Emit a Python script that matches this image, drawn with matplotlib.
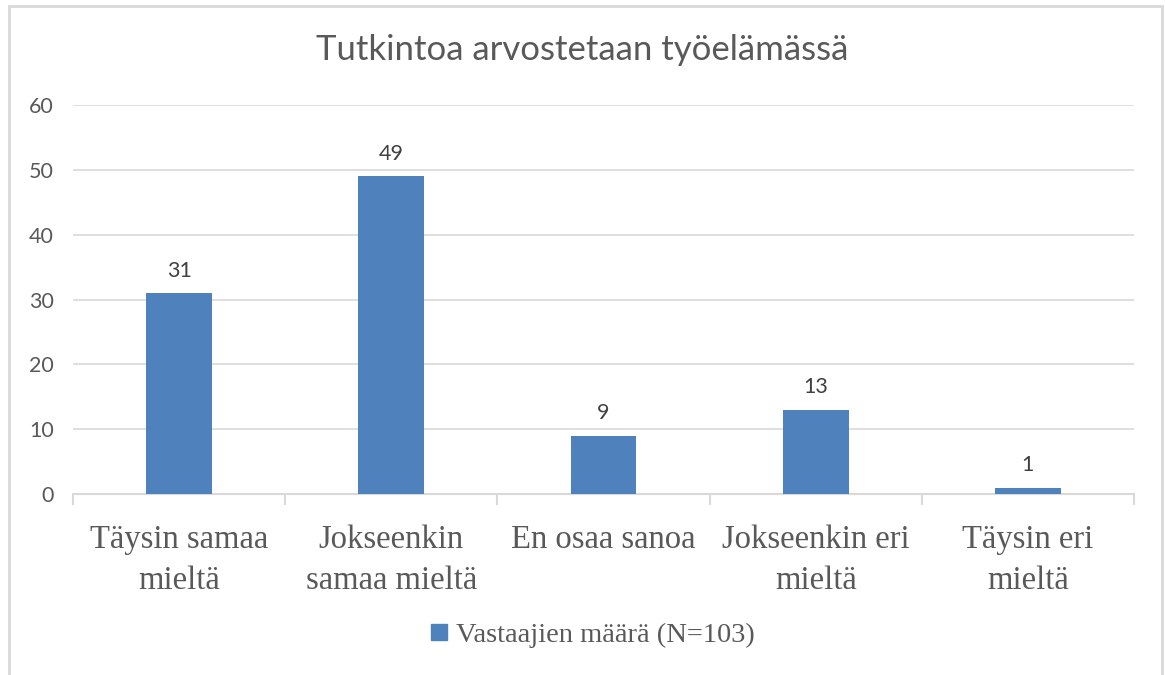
import numpy as np
import matplotlib.pyplot as plt
from matplotlib.patches import Rectangle
from matplotlib.lines import Line2D

## Data
Categories = ["Täysin samaa\nmieltä", "Jokseenkin\nsamaa mieltä", "En osaa sanoa",
              "Jokseenkin eri\nmieltä", "Täysin eri\nmieltä"]
Values = [31, 49, 9, 13, 1]
Y_Ticks = [0, 10, 20, 30, 40, 50, 60]
Title = "Tutkintoa arvostetaan työelämässä"
Series_Name = "Vastaajien määrä (N=103)"

Bar_Colour = "#4f81bd"
Grid_Colour = "#d9d9d9"
Text_Colour = "#595959"

fig = plt.figure(figsize=(11.65, 6.75), dpi=100)
fig.patch.set_facecolor("white")

## Outer chart border (bottom edge cut off like the screenshot)
fig.patches.append(Rectangle((9 / 1165, -0.05), (1162 - 9) / 1165, 1.05 - 6 / 675,
                             transform=fig.transFigure, fill=False,
                             edgecolor=Grid_Colour, linewidth=2))

ax = fig.add_axes([73 / 1165, 181 / 675, (1134 - 73) / 1165, (494 - 105) / 675])

x = np.arange(len(Categories))
ax.bar(x, Values, width=0.31, color=Bar_Colour, zorder=3)

## Value labels above bars
for xi, v in zip(x, Values):
    ax.annotate(str(v), (xi, v), xytext=(0, 9), textcoords="offset points",
                ha="center", va="bottom", fontsize=15.5, color="#404040", family="Lato")

ax.set_xlim(-0.5, len(Categories) - 0.5)
ax.set_ylim(0, 60)
ax.set_yticks(Y_Ticks)
ax.yaxis.grid(True, color=Grid_Colour, linewidth=1.2, zorder=0)
ax.set_axisbelow(True)

for side in ["top", "right", "left"]:
    ax.spines[side].set_visible(False)
ax.spines["bottom"].set_color(Grid_Colour)
ax.spines["bottom"].set_linewidth(1.5)

ax.tick_params(axis="y", length=0, pad=14, labelsize=15.5, labelcolor=Text_Colour)
for lbl in ax.get_yticklabels():
    lbl.set_family("Lato")

## Category boundary ticks and centred labels
ax.set_xticks(np.arange(-0.5, len(Categories), 1.0))
ax.set_xticklabels([])
ax.tick_params(axis="x", which="major", length=8, width=1.5, color=Grid_Colour)
ax.set_xticks(x, minor=True)
ax.set_xticklabels(Categories, minor=True, fontsize=23.5, color=Text_Colour,
                   family="Liberation Serif", linespacing=1.45)
ax.tick_params(axis="x", which="minor", length=0, pad=22)

fig.text(0.5, 1 - 50 / 675, Title, ha="center", va="center", fontsize=25,
         color=Text_Colour, family="Lato")

## Legend
handle = Line2D([], [], marker="s", linestyle="none", markersize=12,
                markerfacecolor=Bar_Colour, markeredgecolor=Bar_Colour)
fig.legend([handle], [Series_Name], loc="center", bbox_to_anchor=(590 / 1165, 1 - 635 / 675),
           frameon=False, prop={"family": "Liberation Serif", "size": 20.5},
           labelcolor=Text_Colour, handletextpad=0.1, handlelength=1.0)

plt.savefig("out.png", dpi=100)
